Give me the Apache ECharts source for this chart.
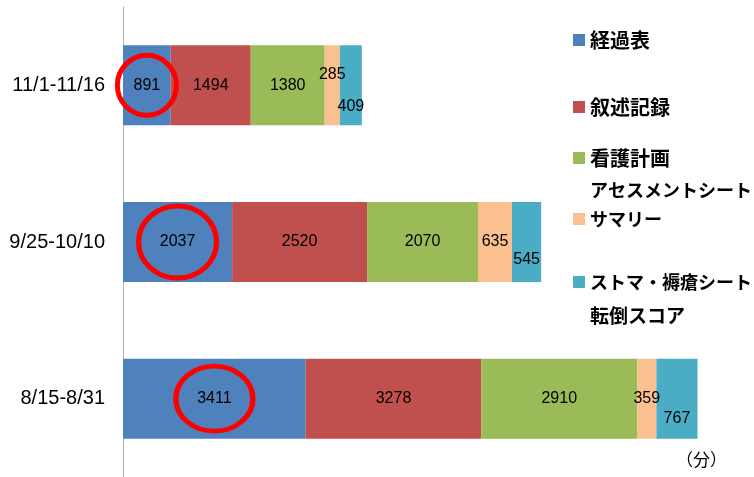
<!DOCTYPE html>
<html>
<head>
<meta charset="utf-8">
<script src="https://cdn.jsdelivr.net/npm/echarts@6/dist/echarts.min.js"></script>
<style>
  html, body { margin: 0; padding: 0; background: #fff; }
  #chart { width: 754px; height: 477px; }
</style>
</head>
<body>
<div id="chart"></div>
<script>
// 期間（下から上）
const periods = ['8/15-8/31', '9/25-10/10', '11/1-11/16']

const keikahyo = [3411, 2037, 891]       // 経過表
const jojutsu = [3278, 2520, 1494]       // 叙述記録
const kango = [2910, 2070, 1380]         // 看護計画
const summary = [359, 635, 285]          // アセスメントシート サマリー
const stoma = [767, 545, 409]            // ストマ・褥瘡シート 転倒スコア

const seriesNames = ['経過表', '叙述記録', '看護計画', 'アセスメントシート サマリー', 'ストマ・褥瘡シート 転倒スコア']
const colors = ['#4F81BD', '#C0504D', '#9BBB59', '#FAC090', '#4BACC6']

const chart = echarts.init(document.getElementById('chart'))

const labelFont = '"Liberation Sans", Arial, sans-serif'
const jpFont = '"Noto Sans CJK JP", sans-serif'

const makeSeries = (name, data, idx, labelOffsets) => ({
  name: name,
  type: 'bar',
  stack: 'total',
  barWidth: 80,
  itemStyle: { color: colors[idx] },
  label: {
    show: true,
    position: 'inside',
    color: '#000',
    fontSize: 16,
    fontFamily: labelFont
  },
  data: data.map((v, i) => labelOffsets
    ? { value: v, label: { offset: labelOffsets[i] } }
    : v)
})

// 経過表の値を赤い丸で囲む
const circled = makeSeries(seriesNames[0], keikahyo, 0)
const ringSizes = [[77, 65], [78, 72], [59, 60]]
circled.markPoint = {
  symbol: 'circle',
  label: { show: false },
  itemStyle: { color: 'transparent', borderColor: '#FF0000', borderWidth: 5 },
  data: keikahyo.map((v, i) => ({
    coord: [v / 2, periods[i]],
    symbolSize: ringSizes[i]
  }))
}

const legendItem = (name, top, text, size) => ({
  data: [name],
  left: 573,
  top: top,
  padding: 0,
  orient: 'vertical',
  itemWidth: 12,
  itemHeight: 12,
  selectedMode: false,
  icon: 'rect',
  formatter: () => text,
  textStyle: { fontSize: size, fontWeight: 'bold', color: '#000', fontFamily: jpFont }
})

const option = {
  animation: false,
  grid: { left: 123, top: 7, width: 616, height: 474 },
  xAxis: {
    type: 'value',
    min: 0,
    max: 11500,
    show: false
  },
  yAxis: {
    type: 'category',
    data: periods,
    axisLine: { show: true, lineStyle: { color: '#B4B4B4', width: 1 } },
    axisTick: { show: false },
    axisLabel: { color: '#000', fontSize: 20, fontFamily: labelFont, margin: 18 }
  },
  legend: [
    legendItem(seriesNames[0], 30, '経過表', 20),
    legendItem(seriesNames[1], 97, '叙述記録', 20),
    legendItem(seriesNames[2], 148, '看護計画', 20),
    legendItem(seriesNames[3], 210, 'サマリー', 18),
    legendItem(seriesNames[4], 273, 'ストマ・褥瘡シート', 18)
  ],
  graphic: [
    {
      type: 'text', left: 590, top: 181,
      style: { text: 'アセスメントシート', fontSize: 18, fontWeight: 'bold', fill: '#000', fontFamily: jpFont }
    },
    {
      type: 'text', left: 590, top: 306,
      style: { text: '転倒スコア', fontSize: 19, fontWeight: 'bold', fill: '#000', fontFamily: jpFont }
    },
    {
      type: 'text', left: 676, top: 451,
      style: { text: '（分）', fontSize: 17, fill: '#000', fontFamily: jpFont }
    }
  ],
  series: [
    circled,
    makeSeries(seriesNames[1], jojutsu, 1),
    makeSeries(seriesNames[2], kango, 2),
    makeSeries(seriesNames[3], summary, 3, [[0, 0], [0, 0], [0, -11]]),
    makeSeries(seriesNames[4], stoma, 4, [[0, 20], [0, 18], [0, 21]])
  ]
}

chart.setOption(option)
</script>
</body>
</html>
